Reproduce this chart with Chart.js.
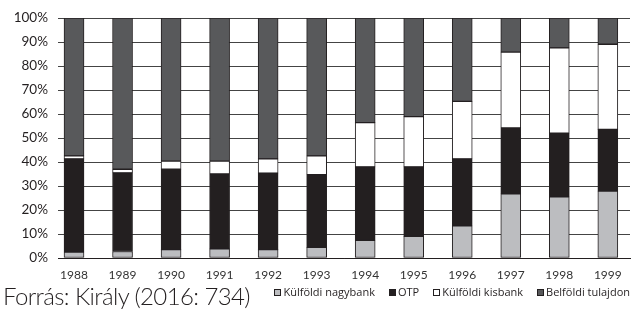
<!DOCTYPE html>
<html><head><meta charset="utf-8">
<script src="https://cdn.jsdelivr.net/npm/chart.js@4/dist/chart.umd.min.js"></script>
<style>
html,body{margin:0;padding:0;background:#fff;}
#wrap{position:relative;width:631px;height:310px;}
#src{position:absolute;left:3px;top:281px;font-family:Lato,sans-serif;font-weight:300;font-size:24px;letter-spacing:-0.6px;color:#231f20;white-space:nowrap;}
#leg{position:absolute;right:1px;top:285px;display:flex;align-items:center;font-family:'Open Sans',sans-serif;font-size:11px;color:#231f20;white-space:nowrap;line-height:14px;}
#leg .it{display:flex;align-items:center;margin-left:14px;}
#leg .it:first-child{margin-left:0;}
#leg .bx{display:inline-block;width:5px;height:5px;border:1px solid #231f20;margin-right:2px;}
</style></head><body>
<div id="wrap"><canvas id="c" width="631" height="310"></canvas><div id="src">Forrás: Király (2016: 734)</div><div id="leg"></div></div>
<script>
const years = [1988,1989,1990,1991,1992,1993,1994,1995,1996,1997,1998,1999];
const yTicks = [0,10,20,30,40,50,60,70,80,90,100];
const kulfoldiNagybank = [2.5,2.7,3.5,3.8,3.5,4.4,7.4,9.0,13.4,26.8,25.5,27.9];
const otp = [38.8,32.8,33.5,31.2,31.9,30.3,30.6,29.0,27.9,27.4,26.5,25.7];
const kulfoldiKisbank = [1.3,1.5,3.4,5.4,5.9,7.9,18.4,20.9,24.0,31.6,35.6,35.5];
const belfoldiTulajdon = [57.4,63.0,59.6,59.6,58.7,57.4,43.6,41.1,34.7,14.2,12.4,10.9];

const seriesNames = ['Külföldi nagybank','OTP','Külföldi kisbank','Belföldi tulajdon'];
const seriesData = [kulfoldiNagybank, otp, kulfoldiKisbank, belfoldiTulajdon];
const colors = ['#bcbdc0','#231f20','#ffffff','#58595b'];

const datasets = seriesNames.map((n,i)=>({
  label:n,
  data: years.map((y,j)=>({x:y,y:seriesData[i][j]})),
  backgroundColor: colors[i],
  borderColor:'#231f20',
  borderWidth:1,
  borderSkipped:false,
  barThickness:20
}));

const chart = new Chart(document.getElementById('c'),{
  type:'bar',
  data:{datasets},
  options:{
    responsive:false,
    animation:false,
    layout:{padding:{top:11,right:1,left:0,bottom:0}},
    plugins:{
      tooltip:{enabled:false},
      legend:{display:false}
    },
    scales:{
      x:{
        type:'linear',
        stacked:true,
        offset:false,
        min:1987.67,
        max:1999.457,
        grid:{display:false},
        border:{display:true,color:'#231f20',width:1},
        afterBuildTicks:s=>{s.ticks=years.map(v=>({value:v}));},
        afterFit:s=>{s.height=52;},
        ticks:{
          callback:v=>String(v),
          color:'#333',
          font:{family:'Lato',size:12},
          padding:2,
          maxRotation:0,autoSkip:false
        }
      },
      y:{
        stacked:true,
        min:0,max:100,
        afterBuildTicks:s=>{s.ticks=yTicks.map(v=>({value:v}));},
        afterFit:s=>{s.width=58;},
        grid:{color:'#444',lineWidth:1,drawTicks:false},
        border:{display:false},
        ticks:{
          callback:v=>v+'%',
          color:'#231f20',
          font:{family:'Lato',size:13.5},
          padding:10
        }
      }
    }
  }
});

const leg = document.getElementById('leg');
chart.data.datasets.forEach(ds=>{
  const it=document.createElement('span');it.className='it';
  const bx=document.createElement('span');bx.className='bx';bx.style.background=ds.backgroundColor;
  const tx=document.createElement('span');tx.textContent=ds.label;
  it.appendChild(bx);it.appendChild(tx);leg.appendChild(it);
});
</script>
</body></html>
